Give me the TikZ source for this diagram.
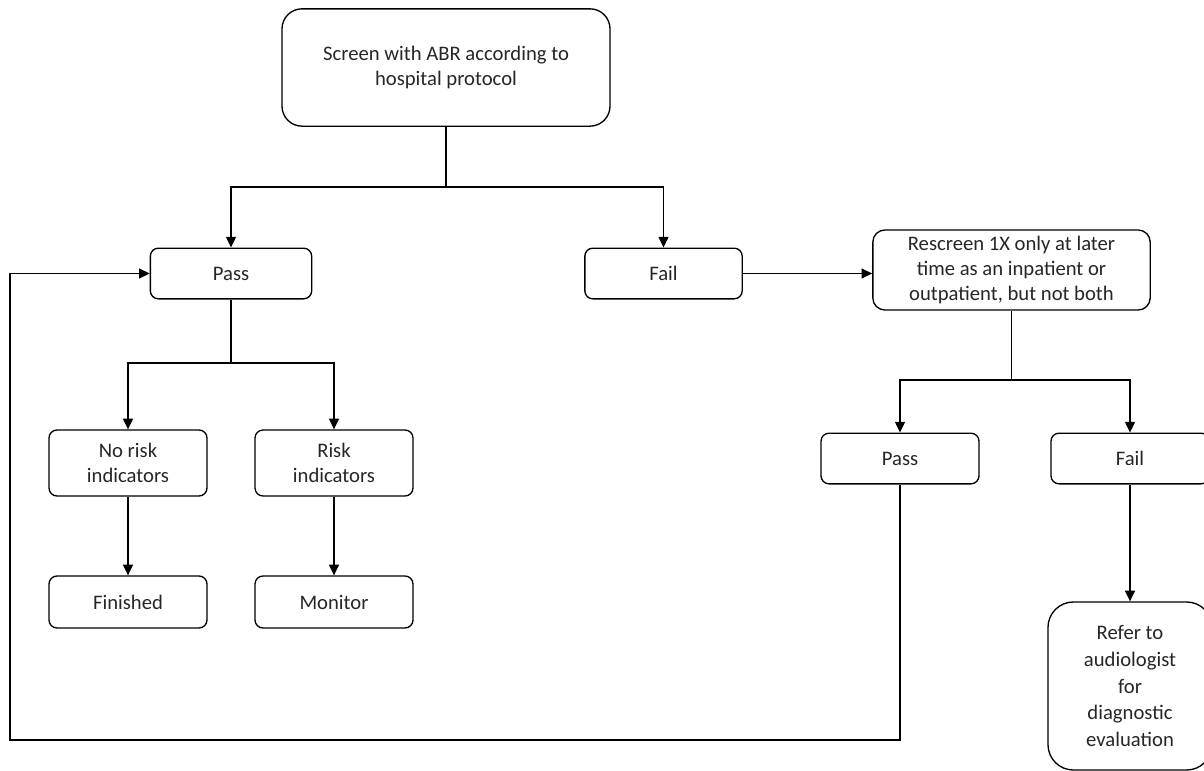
\documentclass[tikz,border=0pt]{standalone}
\usepackage{fontspec}
\setmainfont{Carlito}
\usetikzlibrary{arrows.meta}
\tikzset{
	box/.style={draw, line width=1pt, rounded corners=6pt, align=center, inner sep=0pt, text=black!85, font=\fontsize{15.5}{19}\selectfont},
	line/.style={line width=1pt},
	arr/.style={line width=1pt, -{Triangle[length=8pt,width=7.5pt]}}
}

\begin{document}
\begin{tikzpicture}[x=0.75pt, y=-0.75pt]
			%%%%% START %%%%%
			
			\useasboundingbox (0, 0) rectangle (1204, 771);
			\clip (0, 0) rectangle (1204, 771);
			
			\node[box, rounded corners=15pt, minimum width=246pt, minimum height=88pt] (screen) at (446, 67.5) {Screen with ABR according to\\hospital protocol};
			
			\node[box, minimum width=121pt, minimum height=38pt] (passA) at (231, 273.5) {Pass};
			\node[box, minimum width=118pt, minimum height=38pt] (failA) at (663.5, 273.5) {Fail};
			\node[box, rounded corners=9pt, minimum width=208pt, minimum height=60pt] (rescreen) at (1011.5, 270) {Rescreen 1X only at later\\time as an inpatient or\\outpatient, but not both};
			
			\node[box, minimum width=118.5pt, minimum height=49.5pt] (norisk) at (128, 463) {No risk\\indicators};
			\node[box, minimum width=118.5pt, minimum height=49.5pt] (risk) at (334, 463) {Risk\\indicators};
			\node[box, minimum width=118.5pt, minimum height=39pt] (finished) at (128, 602) {Finished};
			\node[box, minimum width=118.5pt, minimum height=39pt] (monitor) at (334, 602) {Monitor};
			
			\node[box, minimum width=118.5pt, minimum height=38pt] (passB) at (900, 458.5) {Pass};
			\node[box, minimum width=118.5pt, minimum height=38pt] (failB) at (1130, 458.5) {Fail};
			\node[box, rounded corners=19pt, minimum width=123pt, minimum height=126pt, font=\fontsize{15.5}{20}\selectfont] (refer) at (1130, 686) {Refer to\\audiologist\\for\\diagnostic\\evaluation};
			
			\coordinate (splitA) at (446, 187);
			\coordinate (splitB) at (231, 363);
			\coordinate (splitC) at (1011.5, 380);
			\coordinate (loop) at (10, 740);
			
			\draw[line] (screen.south) -- (splitA);
			\draw[arr] (splitA) -| (passA.north);
			\draw[arr] (splitA) -| (failA.north);
			\draw[arr] (failA.east) -- (failA.east -| rescreen.west);
			
			\draw[line] (passA.south) -- (splitB);
			\draw[arr] (splitB) -| (norisk.north);
			\draw[arr] (splitB) -| (risk.north);
			\draw[arr] (norisk.south) -- (finished.north);
			\draw[arr] (risk.south) -- (monitor.north);
			
			\draw[line] (rescreen.south) -- (splitC);
			\draw[arr] (splitC) -| (passB.north);
			\draw[arr] (splitC) -| (failB.north);
			\draw[arr] (failB.south) -- (refer.north);
			
			\draw[arr] (passB.south) |- (loop) |- (passA.west);
			
			%%%%% END %%%%%
\end{tikzpicture}
\end{document}
